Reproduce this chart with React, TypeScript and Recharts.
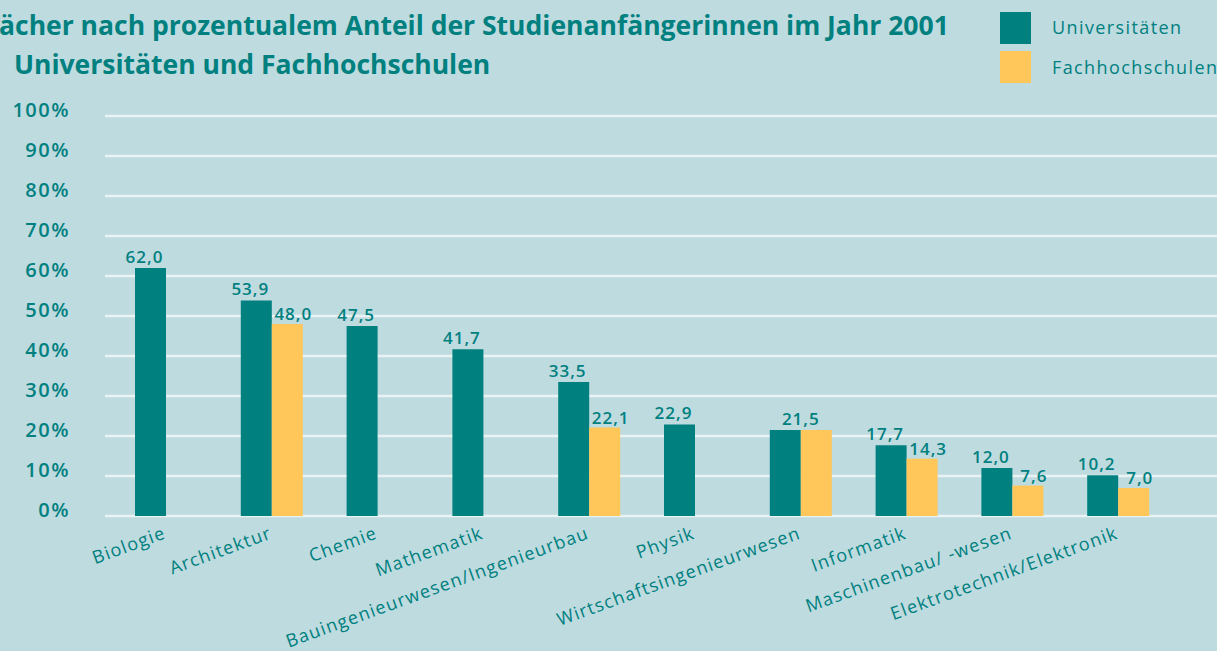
import { BarChart, Bar, XAxis, YAxis, CartesianGrid, LabelList } from "recharts";

const categories = [
  "Biologie",
  "Architektur",
  "Chemie",
  "Mathematik",
  "Bauingenieurwesen/Ingenieurbau",
  "Physik",
  "Wirtschaftsingenieurwesen",
  "Informatik",
  "Maschinenbau/ -wesen",
  "Elektrotechnik/Elektronik",
];
const universitaeten = [62.0, 53.9, 47.5, 41.7, 33.5, 22.9, 21.5, 17.7, 12.0, 10.2];
const fachhochschulen: (number | null)[] = [null, 48.0, null, null, 22.1, null, 21.5, 14.3, 7.6, 7.0];
const yTicks = [0, 10, 20, 30, 40, 50, 60, 70, 80, 90, 100];

const titleLine1 = "ächer nach prozentualem Anteil der Studienanfängerinnen im Jahr 2001";
const titleLine2 = "Universitäten und Fachhochschulen";
const legendItems = ["Universitäten", "Fachhochschulen"];

const TEAL = "#00807f";
const YELLOW = "#ffc659";
const BG = "#bedbdf";
const GRID = "#e9f3f4";
const FONT = "'Open Sans', sans-serif";

// when both values are equal the reference shows a single label over the pair
const data = categories.map((name, i) => {
  const shared = fachhochschulen[i] === universitaeten[i];
  return {
    name,
    uni: universitaeten[i],
    fh: fachhochschulen[i],
    uniSolo: shared ? null : universitaeten[i],
    fhSolo: shared ? null : fachhochschulen[i],
    shared: shared ? universitaeten[i] : null,
  };
});

const fmt = (v: number) => v.toFixed(1).replace(".", ",");

function YTick({ x, y, payload }: any) {
  return (
    <text x={x - 27} y={y + 1} textAnchor="end" fill={TEAL} fontFamily={FONT} fontSize={20} fontWeight={600} letterSpacing={1.5}>
      {payload.value}%
    </text>
  );
}

function XTick({ x, y, payload }: any) {
  const bx = x + 1;
  const by = y + 14;
  return (
    <text
      x={bx}
      y={by}
      textAnchor="end"
      transform={`rotate(-20, ${bx}, ${by})`}
      fill={TEAL}
      fontFamily={FONT}
      fontSize={18}
      letterSpacing={1.2}
    >
      {payload.value}
    </text>
  );
}

const valueText = (cx: number, y: number, value: number) => (
  <text x={cx} y={y} textAnchor="middle" fill={TEAL} fontFamily={FONT} fontSize={17} fontWeight={600} letterSpacing={1}>
    {fmt(value)}
  </text>
);

function UniLabel({ x, y, width, value }: any) {
  if (value == null) return null;
  return valueText(x + width / 2 - 6, y - 5, value);
}

function FhLabel({ x, y, width, value }: any) {
  if (value == null) return null;
  return valueText(x + width / 2 + 6, y - 4, value);
}

function SharedLabel({ x, y, value }: any) {
  if (value == null) return null;
  return valueText(x, y - 5, value);
}

export default function App() {
  return (
    <div style={{ position: "absolute", left: 0, top: 0, width: 1217, height: 651, background: BG, overflow: "hidden" }}>
      <BarChart
        width={1217}
        height={651}
        data={data}
        margin={{ top: 116, right: 0, left: 0, bottom: 105 }}
        barGap={0}
      >
        <CartesianGrid stroke={GRID} strokeWidth={2.5} vertical={false} />
        <YAxis
          domain={[0, 100]}
          ticks={yTicks}
          width={105}
          axisLine={false}
          tickLine={false}
          tick={<YTick />}
          interval={0}
        />
        <XAxis
          dataKey="name"
          axisLine={false}
          tickLine={false}
          interval={0}
          height={30}
          padding={{ left: 8, right: 46 }}
          tick={<XTick />}
        />
        <Bar dataKey="uni" fill={TEAL} barSize={31} isAnimationActive={false}>
          <LabelList dataKey="uniSolo" content={<UniLabel />} />
        </Bar>
        <Bar dataKey="fh" fill={YELLOW} barSize={31} isAnimationActive={false}>
          <LabelList dataKey="fhSolo" content={<FhLabel />} />
          <LabelList dataKey="shared" content={<SharedLabel />} />
        </Bar>
      </BarChart>
      <svg width={1217} height={100} style={{ position: "absolute", left: 0, top: 0, pointerEvents: "none" }}>
        <text x={-1} y={35} fill={TEAL} fontFamily={FONT} fontSize={26.5} fontWeight={700}>
          {titleLine1}
        </text>
        <text x={14} y={74} fill={TEAL} fontFamily={FONT} fontSize={26.5} fontWeight={700}>
          {titleLine2}
        </text>
        {legendItems.map((label, i) => (
          <g key={label}>
            <rect x={1000} y={12 + i * 39} width={31} height={32} fill={i === 0 ? TEAL : YELLOW} />
            <text x={1052} y={34 + i * 40} fill={TEAL} fontFamily={FONT} fontSize={18} letterSpacing={1.4}>
              {label}
            </text>
          </g>
        ))}
      </svg>
    </div>
  );
}
